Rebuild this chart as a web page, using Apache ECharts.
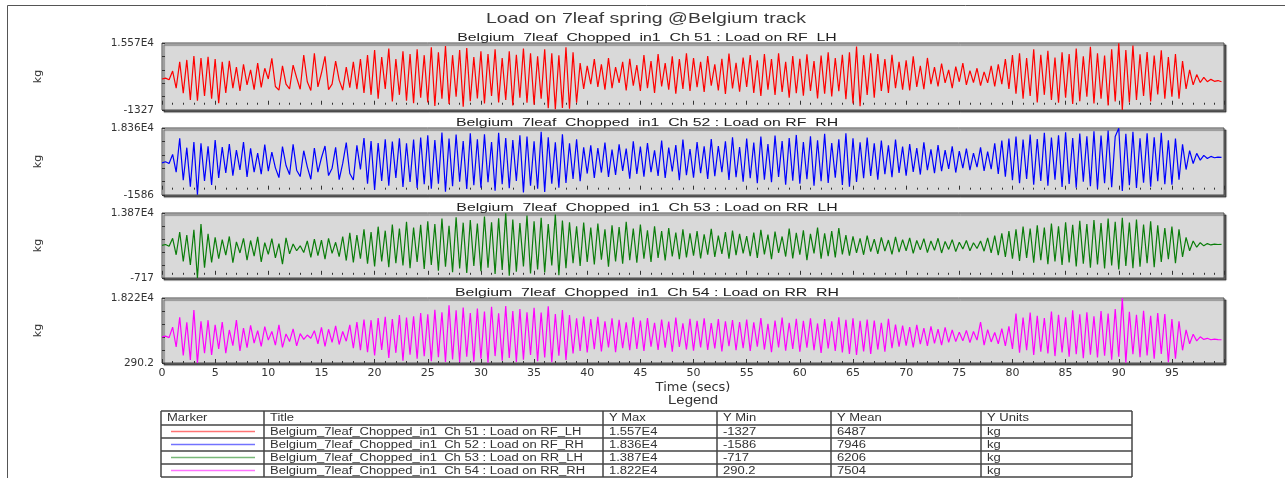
<!DOCTYPE html>
<html>
<head>
<meta charset="utf-8">
<title>Load on 7leaf spring @Belgium track</title>
<script src="https://cdn.jsdelivr.net/npm/echarts@6/dist/echarts.min.js"></script>
<style>html,body{margin:0;padding:0;background:#fff;}</style>
</head>
<body>
<div id="main" style="width:1285px;height:478px;"></div>
<script type="text/javascript">
// one sample every 1/3 s, 0 .. 99.7 s
var SAMPLE_STEP = 1 / 3;

// Ch 51 : Load on RF_LH (kg)
var rfLh = [
  6500, 6700, 6300, 8500, 4200, 10800, 2900, 11300, 1200, 12300, 1000, 11800, 2200, 12100, 1500,
  11500, 400, 10800, 3000, 11100, 4200, 9500, 3500, 10200, 5000, 8800, 3800, 10500, 4400, 9200,
  6500, 11700, 4600, 3700, 9800, 5200, 4000, 10000, 6800, 3900, 12500, 5800, 3600, 13000, 4500,
  8000, 12200, 3800, 5200, 11000, 6200, 3700, 9500, 4300, 10800, 3900, 11500, 3000, 12500, 2500,
  13800, 1500, 12000, 4000, 14200, 800, 11500, 2500, 13500, 1000, 12800, 400, 14000, 1800, 12500,
  600, 14500, -300, 13200, 1500, 14800, 200, 12500, 2000, 13800, -500, 14300, 900, 12000, 1600,
  13500, 300, 12800, 2200, 14000, 600, 11800, 1200, 13500, -200, 12600, 1800, 14200, 500, 13000,
  0, 12200, 1500, 14000, -900, 13000, -1100, 12500, -800, 14500, -1000, 13200, 500, 10500, 4000,
  9800, 5200, 11500, 4500, 10200, 3800, 11800, 4200, 9500, 5500, 10800, 3600, 11600, 4800, 10000,
  3500, 12500, 4200, 11000, 3000, 12800, 4600, 10500, 3800, 12200, 2800, 11500, 4000, 13000, 3500,
  11800, 4400, 10800, 3200, 12300, 4800, 10200, 3600, 11600, 2700, 12900, 4100, 10600, 3300, 11900,
  4500, 12500, 3000, 11200, 2200, 12800, 3800, 11500, 2500, 13000, 3200, 10800, 1800, 12300, 2900,
  11600, 2300, 12700, 3500, 11000, 1600, 12400, 2800, 13200, 2100, 11800, 3400, 12600, 1400, 13200,
  300, 14700, -400, 12500, 2500, 13000, 1800, 12800, 3500, 11500, 3000, 12600, 4200, 10800, 3800,
  11200, 3600, 12200, 4500, 9800, 3900, 11800, 5200, 9500, 4600, 10400, 5500, 8800, 4200, 9600,
  5800, 10500, 5000, 8600, 5600, 9200, 4800, 8300, 5500, 9800, 4600, 10200, 5200, 11500, 4000,
  12500, 2800, 13000, 1500, 11800, 2200, 14000, 600, 12600, 2500, 13600, 1200, 11900, 500, 13200,
  1800, 12800, 200, 14200, 900, 12200, 2000, 14600, 300, 13000, 1500, 12400, -200, 14000, 800,
  15500, -1300, 13800, 600, 14900, 1200, 12700, 2200, 13300, 800, 12400, 2600, 13700, 1500, 12000,
  2000, 12800, 1500, 11000, 4000, 8800, 5000, 7600, 5600, 6900, 5800, 6400, 5900, 6100, 5800
];

// Ch 52 : Load on RF_RH (kg)
var rfRh = [
  8000, 8300, 7800, 10500, 5200, 15300, 2800, 12500, 900, 14200, -1500, 13800, 2600, 12900, 1400,
  14800, 3500, 12700, 5000, 13600, 4200, 11800, 5900, 14200, 3800, 12300, 5200, 10900, 4600, 13400,
  5500, 11200, 6500, 3600, 12800, 7200, 4500, 13500, 5800, 3900, 11600, 6800, 3100, 12400, 5200,
  9500, 13000, 4200, 6400, 12600, 3000, 7800, 14000, 4800, 2900, 13200, 6000, 15400, 1800, 14500,
  -100, 13900, 2600, 15000, 1200, 14300, 3500, 15300, 800, 13800, 2300, 14900, 500, 15500, 1600,
  16200, 300, 14800, 1800, 17000, -600, 15200, 1000, 16400, 2400, 14500, 200, 16800, 1300, 15000,
  600, 16500, 2200, 14200, -300, 16900, 1600, 15400, 400, 14800, 2600, 16200, -800, 15800, 1200,
  14400, 300, 17200, -700, 15600, 1800, 14100, 600, 16500, 2000, 13800, 3200, 15000, 2500, 12600,
  4800, 13200, 3500, 12400, 5100, 14000, 3800, 11900, 4400, 13500, 5600, 12200, 3300, 14400, 4700,
  12800, 3900, 13900, 5200, 11700, 4100, 14600, 3500, 12500, 5400, 13300, 2800, 14900, 4300, 12100,
  3600, 14200, 4900, 12900, 3200, 15100, 4000, 13000, 5200, 14400, 2900, 15600, 3700, 12700, 2400,
  15200, 3400, 14000, 1900, 15800, 3000, 13600, 2200, 16100, 3800, 14500, 1500, 15400, 2700, 16300,
  1800, 14200, 3100, 15900, 1200, 14700, 2500, 16600, 2000, 13900, 3600, 15000, 1400, 16800, 900,
  15300, 2300, 14100, 3400, 15500, 4100, 13800, 3000, 14600, 4600, 13200, 3700, 14900, 5000, 12800,
  4200, 13600, 5300, 12400, 4500, 14100, 5800, 12000, 4900, 13300, 5500, 11800, 6200, 12900, 5100,
  11500, 6400, 12200, 5800, 10900, 6700, 12600, 5600, 11300, 6100, 13800, 4700, 14600, 3900, 15200,
  2800, 15800, 1900, 14900, 3200, 16400, 1500, 15100, 2600, 16900, 1200, 15500, 3000, 16200, 800,
  17100, 1700, 15400, 600, 16700, 2400, 15900, 1000, 17400, 300, 16100, 1900, 17600, 700, 15800,
  18300, -400, 16600, 1300, 17200, 500, 15300, 2100, 16800, 900, 15600, 2500, 16900, 1600, 14700,
  1500, 15200, 3000, 13500, 6000, 11600, 7800, 10800, 8800, 10200, 9300, 9900, 9500, 9700, 9600
];

// Ch 53 : Load on RR_LH (kg)
var rrLh = [
  6600, 6800, 6400, 8200, 4500, 9600, 3000, 8900, 2200, 10100, -700, 11400, 1600, 9200, 2800,
  8400, 3600, 7900, 4400, 8600, 2700, 7400, 4900, 8200, 3300, 7700, 4200, 8500, 2900, 7200,
  4600, 8100, 3800, 7000, 2400, 8300, 4700, 6900, 5400, 6500, 5000, 7600, 3900, 8000, 4300,
  7800, 3500, 8200, 4800, 7300, 4100, 8600, 3200, 9400, 2800, 8900, 3600, 10200, 2500, 9600,
  1900, 10800, 3000, 9900, 1700, 11300, 2600, 10400, 2100, 11900, 1500, 10600, 2900, 11200, 1300,
  12000, 2200, 11400, 900, 12600, 1800, 11000, 600, 12900, 1400, 11700, 400, 12300, 2000, 11500,
  800, 13100, 1600, 11800, 200, 12700, 1100, 13800, -200, 12400, 700, 11600, 1900, 13300, 300,
  12000, 1200, 12800, 500, 11400, 2100, 13500, -100, 12200, 1500, 11800, 2600, 10900, 2000, 11700,
  2900, 10600, 2300, 11500, 3400, 10200, 1800, 11100, 3000, 10700, 2500, 11900, 3300, 10400, 2700,
  11300, 3600, 10000, 2900, 10900, 3800, 9800, 3200, 10500, 4100, 9500, 3500, 10200, 3900, 9300,
  4300, 9800, 3700, 9100, 4500, 10300, 4000, 8800, 4700, 9600, 3600, 9900, 4400, 9200, 4800,
  8700, 4200, 9500, 3800, 10100, 4600, 9000, 3500, 9700, 4900, 8600, 4100, 10400, 3700, 9400,
  4500, 10000, 3300, 9200, 4800, 10600, 3600, 9300, 4200, 9800, 3900, 10500, 4600, 8900, 4300,
  8600, 4900, 8200, 4500, 8800, 5200, 8000, 4700, 8400, 5300, 7800, 4600, 8500, 5100, 7900,
  5400, 8300, 4800, 7700, 5600, 8100, 5000, 7600, 5500, 8200, 4900, 7500, 5700, 7900, 5200,
  7300, 5800, 7700, 5400, 7200, 5900, 7600, 5300, 8300, 4900, 8800, 4400, 9300, 4000, 9800,
  3600, 10200, 3100, 10800, 3800, 10400, 2700, 11100, 3300, 10600, 2400, 11500, 3000, 10900, 2200,
  11800, 2800, 11200, 1900, 12100, 2500, 11400, 1600, 12300, 2300, 11600, 1400, 12600, 2100, 11900,
  1200, 12800, 2000, 11700, 1500, 12400, 1800, 11300, 2600, 12000, 1700, 11100, 2900, 10500, 3500,
  10800, 2600, 10200, 4000, 8400, 5400, 7600, 6200, 7200, 6500, 7000, 6700, 6900, 6800, 6850
];

// Ch 54 : Load on RR_RH (kg)
var rrRh = [
  7500, 7700, 7300, 10200, 4700, 12900, 2400, 11500, 1100, 14900, 300, 11800, 3000, 12100, 2500,
  10800, 4200, 11600, 3000, 9400, 5100, 12100, 3600, 9900, 4500, 10700, 5800, 9200, 4900, 10300,
  6600, 9000, 5200, 10800, 4600, 8300, 6200, 9700, 5000, 8400, 6800, 8000, 7100, 9200, 5600,
  10100, 4900, 9600, 6000, 10500, 5400, 9000, 6300, 10800, 4400, 11600, 3800, 12300, 3300, 12100,
  2400, 12700, 3900, 13000, 1700, 12400, 3100, 13500, 900, 12800, 2600, 13200, 1500, 14100, 2200,
  13700, 800, 15000, 1900, 14300, 600, 16200, 1300, 14800, 500, 15600, 2000, 14100, 700, 15300,
  1500, 14500, 400, 15800, 2200, 14000, 900, 16000, 1700, 14600, 600, 15200, 1200, 14300, 2500,
  15500, 800, 14200, 1800, 15900, 500, 13800, 2300, 14900, 1100, 13500, 2900, 12600, 3600, 13100,
  3200, 12400, 4100, 13000, 3500, 11800, 4600, 12600, 3300, 12200, 4400, 11500, 3800, 12900, 4200,
  12000, 3600, 12700, 4800, 11400, 3900, 12300, 4500, 11700, 3400, 12800, 4700, 11200, 4000, 12500,
  3700, 11900, 4600, 12600, 3900, 11300, 4300, 12400, 3500, 11800, 4900, 12100, 3800, 11600, 4400,
  12300, 3600, 11500, 4800, 12700, 4000, 11100, 3300, 12000, 4600, 12800, 3700, 11400, 4200, 12500,
  3400, 11900, 4500, 12600, 3800, 11200, 3100, 12400, 4300, 11800, 3600, 12900, 3200, 12200, 2800,
  12600, 2500, 11900, 3500, 12300, 2800, 12000, 4000, 11400, 3400, 12500, 4400, 10900, 4800, 10600,
  5100, 10200, 4600, 10800, 5500, 9900, 5000, 10400, 5700, 9600, 5200, 10100, 6000, 9400, 6200,
  8800, 6400, 9300, 5900, 9000, 6600, 11600, 5200, 9500, 6100, 8700, 5600, 9800, 5000, 10400,
  4200, 13900, 3100, 12800, 3800, 14200, 2500, 13300, 3400, 12700, 2900, 14500, 2200, 13600, 3200,
  12900, 2000, 14800, 2700, 13700, 1600, 14300, 2600, 13200, 1800, 14600, 2300, 13900, 1200, 15200,
  2000, 18200, 400, 14400, 2700, 13600, 1900, 14700, 2400, 13300, 1500, 14100, 2800, 13800, 500,
  12400, 1500, 11800, 3800, 9400, 5600, 8200, 6400, 7500, 6800, 7100, 6700, 6900, 6750, 6700
];

var channelTitles = [
  'Belgium_7leaf_Chopped_in1  Ch 51 : Load on RF_LH',
  'Belgium_7leaf_Chopped_in1  Ch 52 : Load on RF_RH',
  'Belgium_7leaf_Chopped_in1  Ch 53 : Load on RR_LH',
  'Belgium_7leaf_Chopped_in1  Ch 54 : Load on RR_RH'
];
var yMaxValues = [15570, 18360, 13870, 18220];
var yMinValues = [-1327, -1586, -717, 290.2];
var yMaxText = ['1.557E4', '1.836E4', '1.387E4', '1.822E4'];
var yMinText = ['-1327', '-1586', '-717', '290.2'];
var yMeanText = ['6487', '7946', '6206', '7504'];
var yUnits = ['kg', 'kg', 'kg', 'kg'];
var tableHeader = ['Marker', 'Title', 'Y Max', 'Y Min', 'Y Mean', 'Y Units'];

var colors = ['#ff0000', '#0000ff', '#0a7d0a', '#ff00ff'];
var allSeries = [rfLh, rfRh, rrLh, rrRh];

var myChart = echarts.init(document.getElementById('main'));

var gridTops = [43, 128, 213, 298];
var gridHeights = [67, 67, 65, 65];
var subTitleY = [37.5, 122.5, 207.5, 292.5];
var fontSans = '"Liberation Sans", Arial, sans-serif';
var fontAxis = '"DejaVu Sans", sans-serif';

var grids = [], xAxes = [], yAxes = [], series = [];
for (var k = 0; k < 4; k++) {
  grids.push({
    left: 162, top: gridTops[k], width: 1062, height: gridHeights[k],
    show: true, backgroundColor: '#d9d9d9', borderColor: '#4a4a4a', borderWidth: 1,
    shadowColor: 'rgba(0,0,0,0.6)', shadowBlur: 1, shadowOffsetX: 2, shadowOffsetY: 2
  });
  xAxes.push({
    type: 'value', gridIndex: k, min: 0, max: 99.9, interval: 5,
    axisLine: {show: false},
    axisTick: {show: true, inside: true, length: 4, lineStyle: {color: '#333'}},
    minorTick: {show: true, splitNumber: 5, length: 2, lineStyle: {color: '#333'}},
    splitLine: {show: false},
    axisLabel: {
      show: k === 3, margin: 5, color: '#333', fontFamily: fontAxis, fontSize: 11,
      formatter: function (v) { return (Math.abs(v % 5) < 1e-6) ? String(Math.round(v)) : ''; }
    },
    name: k === 3 ? 'Time (secs)' : '',
    nameLocation: 'middle', nameGap: 18,
    nameTextStyle: {color: '#333', fontFamily: fontAxis, fontSize: 13}
  });
  (function (k) {
    var lo = yMinValues[k], hi = yMaxValues[k];
    yAxes.push({
      type: 'value', gridIndex: k, min: lo, max: hi, interval: (hi - lo) / 5,
      axisLine: {show: false},
      axisTick: {show: true, inside: true, length: 3, lineStyle: {color: '#333'}},
      splitLine: {show: false},
      axisLabel: {
        margin: 8, color: '#333', fontFamily: fontAxis, fontSize: 10.5,
        formatter: function (v) {
          if (Math.abs(v - lo) < 0.5) return yMinText[k];
          if (Math.abs(v - hi) < 0.5) return yMaxText[k];
          return '';
        }
      },
      name: 'kg', nameLocation: 'middle', nameGap: 118,
      nameTextStyle: {color: '#333', fontFamily: fontAxis, fontSize: 11}
    });
  })(k);
  series.push({
    type: 'line', xAxisIndex: k, yAxisIndex: k,
    data: allSeries[k].map(function (v, i) { return [i * SAMPLE_STEP, v]; }),
    symbol: 'none', showSymbol: false, silent: true, clip: true,
    lineStyle: {width: 1.2, color: colors[k]}, itemStyle: {color: colors[k]}
  });
}

// titles, frame and legend table
var graphics = [
  {type: 'line', shape: {x1: 7.5, y1: 5.5, x2: 1285, y2: 5.5}, style: {stroke: '#555', lineWidth: 1}},
  {type: 'line', shape: {x1: 7.5, y1: 5.5, x2: 7.5, y2: 478}, style: {stroke: '#555', lineWidth: 1}},
  {type: 'text', x: 646, y: 19, scaleX: 1.3,
    style: {text: 'Load on 7leaf spring @Belgium track', fontFamily: fontSans, fontSize: 15,
      fill: '#3a3a3a', align: 'center', verticalAlign: 'middle'}},
  {type: 'text', x: 693, y: 401, scaleX: 1.25,
    style: {text: 'Legend', fontFamily: fontSans, fontSize: 12, fill: '#333', align: 'center', verticalAlign: 'middle'}}
];
for (var s = 0; s < 4; s++) {
  graphics.push({type: 'text', x: 647, y: subTitleY[s], scaleX: 1.44,
    style: {text: channelTitles[s].replace(/_/g, '  '), fontFamily: fontSans, fontSize: 11,
      fill: '#222', align: 'center', verticalAlign: 'middle'}});
}

var colX = [161, 264, 603, 717, 831, 981, 1132];
var rowY = [411, 425, 438, 451, 464, 477];
rowY.forEach(function (y) {
  graphics.push({type: 'line', shape: {x1: colX[0], y1: y, x2: colX[6], y2: y}, style: {stroke: '#444', lineWidth: 1.5}});
});
colX.forEach(function (x) {
  graphics.push({type: 'line', shape: {x1: x, y1: rowY[0], x2: x, y2: rowY[5]}, style: {stroke: '#444', lineWidth: 1.5}});
});
function cellText(str, col, row) {
  graphics.push({type: 'text', x: colX[col] + 6, y: (rowY[row] + rowY[row + 1]) / 2 + 0.5, scaleX: 1.3,
    style: {text: str, fontFamily: fontSans, fontSize: 10, fill: '#333', align: 'left', verticalAlign: 'middle'}});
}
tableHeader.forEach(function (h, c) { cellText(h, c, 0); });
for (var r = 0; r < 4; r++) {
  var cy = (rowY[r + 1] + rowY[r + 2]) / 2;
  graphics.push({type: 'line', shape: {x1: 171, y1: cy, x2: 255, y2: cy},
    style: {stroke: colors[r], lineWidth: 1.5, opacity: 0.55}});
  cellText(channelTitles[r], 1, r + 1);
  cellText(yMaxText[r], 2, r + 1);
  cellText(yMinText[r], 3, r + 1);
  cellText(yMeanText[r], 4, r + 1);
  cellText(yUnits[r], 5, r + 1);
}

var option = {
  animation: false,
  backgroundColor: '#fff',
  grid: grids,
  xAxis: xAxes,
  yAxis: yAxes,
  series: series,
  graphic: {elements: graphics}
};

myChart.setOption(option);
</script>
</body>
</html>
